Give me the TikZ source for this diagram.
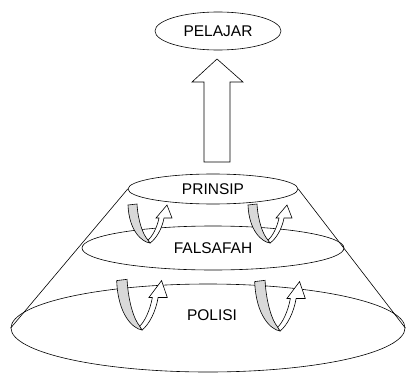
\documentclass[tikz,border=0pt]{standalone}
\usepackage{fontspec}
\setmainfont{Liberation Sans}
\usetikzlibrary{shapes.geometric}

\tikzset{
  level/.style={draw, ellipse, inner sep=0pt},
  band/.style={fill=gray!30},
  twist/.pic={
    \filldraw[band] (-22,-38) .. controls (-21,-12) and (-8,-1) .. (0,0) -- (-2,-3) .. controls (-7,-8) and (-12,-22) .. (-13,-39) -- cycle;
    \filldraw[fill=white] (-2,-3) -- (0,0) .. controls (6,-4) and (12,-14) .. (14,-25) -- (22,-25) -- (17,-38) -- (6,-25) -- (9,-25) .. controls (7,-15) and (2,-6) .. cycle;
  }
}

\begin{document}
\begin{tikzpicture}[x=1pt, y=-1pt, line width=0.6pt, font=\fontsize{15.5}{18}\selectfont]
\useasboundingbox (0,0) rectangle (406,374);

\node[level, minimum width=394, minimum height=88](polisi) at (208,328) {};
\node[level, minimum width=262, minimum height=44](falsafah) at (213,248) {FALSAFAH};
\node[level, fill=white, minimum width=170, minimum height=30](prinsip) at (213,189) {PRINSIP};
\node[level, minimum width=126, minimum height=38](pelajar) at (218,31) {PELAJAR};

\draw (prinsip.west) -- (polisi.west);
\draw (prinsip.east) -- (polisi.east);

\node (polisi_text) at (212,315) {POLISI};

% big arrow up to PELAJAR
\draw (204,162) -- (204,82) -- (192,82) -- (217,59) -- (243,82) -- (230,82) -- (230,162) -- cycle;

\pic at (150,243) {twist};
\pic at (270,243) {twist};
\pic[xscale=1.15, yscale=1.3] at (142,330) {twist};
\pic[xscale=1.15, yscale=1.3] at (280,331) {twist};

\end{tikzpicture}
\end{document}
